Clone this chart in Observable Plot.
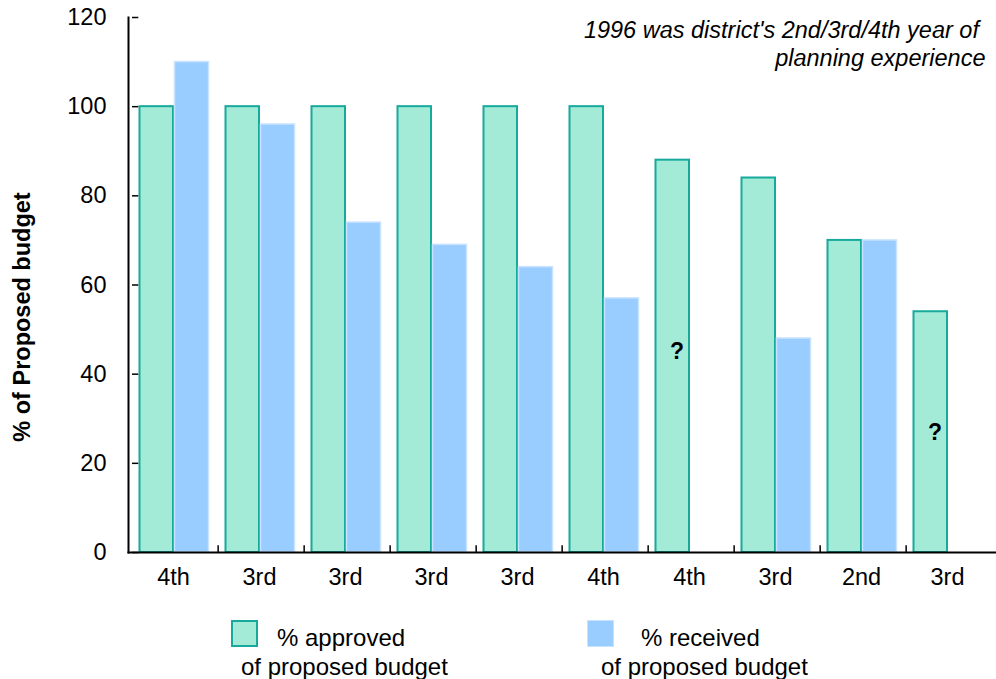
<!DOCTYPE html>
<html>
<head>
<meta charset="utf-8">
<script src="https://cdn.jsdelivr.net/npm/d3@7"></script>
<script src="https://cdn.jsdelivr.net/npm/@observablehq/plot@0.6"></script>
<style>
  body { margin: 0; background: #fff; font-family: Arial, "Liberation Sans", sans-serif; }
  #wrap { position: relative; width: 996px; height: 679px; overflow: hidden; }
  #wrap svg { display: block; }
  .item { position: absolute; top: 620px; font-size: 24px; line-height: 29px; color: #000; }
  .swatch { position: absolute; left: 0; top: 0; width: 27px; height: 27px; box-sizing: border-box; }
  .line1, .line2 { position: absolute; white-space: nowrap; }
  .line1 { top: 3px; }
  .line2 { top: 32px; }
</style>
</head>
<body>
<div id="wrap"></div>
<script>
// Planning-experience year of each district in 1996
const years = ["4th", "3rd", "3rd", "3rd", "3rd", "4th", "4th", "3rd", "2nd", "3rd"];
// % of proposed budget that was approved / actually received (null = unknown)
const approved = [100, 100, 100, 100, 100, 100, 88, 84, 70, 54];
const received = [110, 96, 74, 69, 64, 57, null, 48, 70, null];
const yTicks = [0, 20, 40, 60, 80, 100, 120];
// districts whose received share is unknown, and the height of the "?" marker
const unknownIdx = [6, 9];
const unknownY = [45, 27];
const seriesNames = [["% approved", "of proposed budget"], ["% received", "of proposed budget"]];
const seriesFill = ["#a3ebd7", "#99ccff"];
const seriesStroke = ["#17aa9c", "#c9e3ff"];
const note = "1996 was district's 2nd/3rd/4th year of\u00a0\nplanning experience";
const yTitle = "% of Proposed budget";

const idx = d3.range(years.length);
const approvedRows = idx.map(i => ({i, v: approved[i]}));
const receivedRows = idx.filter(i => received[i] != null).map(i => ({i, v: received[i]}));

const W = 996, H = 600, mL = 128, mR = 1;
const bw = (W - mL - mR) / years.length;

const chart = Plot.plot({
  width: W,
  height: H,
  marginLeft: mL,
  marginRight: mR,
  marginTop: 17,
  marginBottom: 48,
  style: {fontFamily: "Arial, 'Liberation Sans', sans-serif", fontSize: "22px", color: "#000", background: "#fff"},
  x: {type: "band", domain: idx, padding: 0, axis: null},
  y: {domain: [0, 120], axis: null},
  marks: [
    Plot.barY(approvedRows, {x: "i", y: "v", fill: seriesFill[0], stroke: seriesStroke[0], strokeWidth: 2,
      insetLeft: 7.5, insetRight: 45}),
    Plot.barY(receivedRows, {x: "i", y: "v", fill: seriesFill[1], stroke: seriesStroke[1], strokeWidth: 1.5,
      insetLeft: 42.5, insetRight: 9.5}),
    // inward y ticks
    Plot.tickY(yTicks, {y: d => d, x: () => 0, stroke: "#000", strokeWidth: 1.5, insetRight: bw - 7}),
    // small separators between districts on the x axis
    Plot.ruleX(idx.slice(1), {x: d => d, dx: -bw / 2, y1: 0, y2: 1.5, stroke: "#000", strokeWidth: 1.5}),
    Plot.frame({anchor: "left", strokeWidth: 2, stroke: "#000"}),
    Plot.frame({anchor: "bottom", strokeWidth: 2, stroke: "#000"}),
    Plot.axisY(yTicks, {tickSize: 0, tickPadding: 22, fontSize: 23.5, label: null}),
    Plot.axisX(idx, {tickFormat: i => years[i], tickSize: 0, tickPadding: 16, dx: -2, fontSize: 23.5, label: null}),
    Plot.text(unknownIdx, {x: d => d, y: (d, j) => unknownY[j], text: () => "?", dx: -bw / 2 + 29,
      fontWeight: "bold", fontSize: 23, fill: "#000"}),
    Plot.text([note], {frameAnchor: "top-right", dx: -10, dy: 0, lineAnchor: "top", lineHeight: 1.2,
      textAnchor: "end", fontStyle: "italic", fontSize: 23.5, fill: "#000"}),
    Plot.text([yTitle], {frameAnchor: "left", rotate: -90, dx: -106, dy: 32, textAnchor: "middle",
      fontWeight: "bold", fontSize: 23.5, fill: "#000"})
  ]
});

const wrap = document.getElementById("wrap");
wrap.appendChild(chart);

// legend below the plot
const legendLeft = [231, 587];
const line1Off = [46, 54];
const line2Off = [10, 14];
seriesNames.forEach((lines, k) => {
  const item = document.createElement("div");
  item.className = "item";
  item.style.left = legendLeft[k] + "px";
  const sw = document.createElement("div");
  sw.className = "swatch";
  sw.style.background = seriesFill[k];
  sw.style.border = k === 0 ? `2px solid ${seriesStroke[0]}` : `1.5px solid ${seriesStroke[1]}`;
  item.appendChild(sw);
  const l1 = document.createElement("div");
  l1.className = "line1";
  l1.style.left = line1Off[k] + "px";
  l1.textContent = lines[0];
  const l2 = document.createElement("div");
  l2.className = "line2";
  l2.style.left = line2Off[k] + "px";
  l2.textContent = lines[1];
  item.appendChild(l1);
  item.appendChild(l2);
  wrap.appendChild(item);
});
</script>
</body>
</html>
